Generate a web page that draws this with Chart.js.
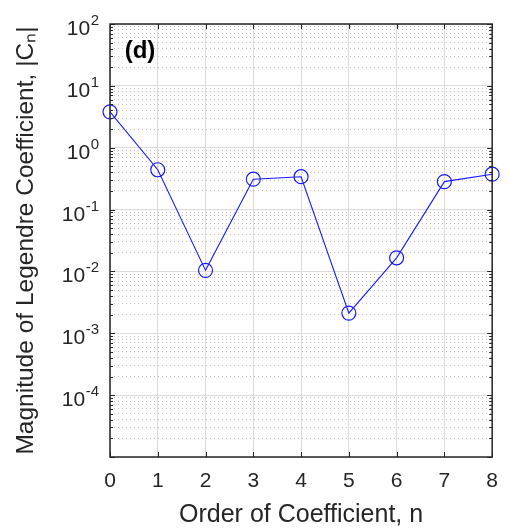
<!DOCTYPE html>
<html>
<head>
<meta charset="utf-8">
<script src="https://cdn.jsdelivr.net/npm/chart.js@4"></script>
<style>
  body { margin: 0; background: #fff; }
  canvas { display: block; }
</style>
</head>
<body>
<canvas id="legendreChart" width="510" height="531"></canvas>
<script>
// data
const orders = [0, 1, 2, 3, 4, 5, 6, 7, 8];
const magnitudes = [3.8, 0.44, 0.0104, 0.31, 0.34, 0.00212, 0.0166, 0.283, 0.373];
const xTickValues = [0, 1, 2, 3, 4, 5, 6, 7, 8];
const yDecades = [-5, -4, -3, -2, -1, 0, 1, 2];
const yLabelExponents = [-4, -3, -2, -1, 0, 1, 2];
const panelTag = '(d)';

const textColor = '#262626';
const fontFamily = '"Liberation Sans", Arial, sans-serif';
const isDecade = v => Math.abs(Math.log10(v) - Math.round(Math.log10(v))) < 1e-9;

// 1..9 x 10^e for every decade, last decade only its 10^max
const yTickValues = [];
yDecades.forEach((e, i) => {
  if (i === yDecades.length - 1) { yTickValues.push(Math.pow(10, e)); return; }
  for (let m = 1; m <= 9; m++) yTickValues.push(m * Math.pow(10, e));
});

const matlabAxes = {
  id: 'matlabAxes',
  afterDraw(chart) {
    const ctx = chart.ctx;
    const a = chart.chartArea;
    const xs = chart.scales.x, ys = chart.scales.y;
    ctx.save();
    ctx.strokeStyle = textColor;
    ctx.lineWidth = 1;
    // inward tick marks
    ctx.beginPath();
    yTickValues.forEach(v => {
      const y = Math.round(ys.getPixelForValue(v)) + 0.5;
      const len = isDecade(v) ? 5 : 3;
      ctx.moveTo(a.left, y); ctx.lineTo(a.left + len, y);
      ctx.moveTo(a.right, y); ctx.lineTo(a.right - len, y);
    });
    xTickValues.forEach(v => {
      const x = Math.round(xs.getPixelForValue(v)) + 0.5;
      ctx.moveTo(x, a.bottom); ctx.lineTo(x, a.bottom - 5);
      ctx.moveTo(x, a.top); ctx.lineTo(x, a.top + 5);
    });
    ctx.stroke();
    // box
    ctx.lineWidth = 1.5;
    ctx.strokeRect(a.left, a.top, a.right - a.left, a.bottom - a.top);

    // y tick labels 10^n
    ctx.fillStyle = textColor;
    ctx.textBaseline = 'alphabetic';
    ctx.textAlign = 'right';
    const rightEdge = a.left - 11;
    yLabelExponents.forEach(e => {
      const y = ys.getPixelForValue(Math.pow(10, e));
      const sup = String(e);
      ctx.font = '15px ' + fontFamily;
      const supW = ctx.measureText(sup).width;
      ctx.fillText(sup, rightEdge, y + 1);
      ctx.font = '21px ' + fontFamily;
      ctx.fillText('10', rightEdge - supW - 0.5, y + 11);
    });

    // panel tag
    ctx.font = 'bold 24px ' + fontFamily;
    ctx.textAlign = 'center';
    ctx.textBaseline = 'middle';
    ctx.fillStyle = '#000';
    ctx.fillText(panelTag, a.left + 30, a.top + 27);
    ctx.restore();
  }
};

new Chart(document.getElementById('legendreChart').getContext('2d'), {
  type: 'line',
  data: {
    datasets: [{
      data: orders.map((n, i) => ({ x: n, y: magnitudes[i] })),
      borderColor: '#1a1aff',
      borderWidth: 1.1,
      pointStyle: 'circle',
      pointRadius: 7,
      pointBorderWidth: 1.2,
      pointBorderColor: '#1a1aff',
      pointBackgroundColor: 'rgba(0,0,0,0)',
      tension: 0,
      fill: false,
      clip: false
    }]
  },
  options: {
    responsive: false,
    animation: false,
    devicePixelRatio: 1,
    layout: { padding: { left: 0, top: 24, right: 13, bottom: 0 } },
    plugins: {
      legend: { display: false },
      tooltip: { enabled: false }
    },
    scales: {
      x: {
        type: 'linear',
        min: 0,
        max: 8,
        afterBuildTicks: scale => { scale.ticks = xTickValues.map(v => ({ value: v })); },
        afterFit: scale => { scale.height = 74; },
        ticks: {
          color: textColor,
          font: { family: fontFamily, size: 21 },
          padding: 12,
          maxRotation: 0
        },
        grid: { color: '#dcdcdc', lineWidth: 1, drawTicks: false },
        border: { display: false },
        title: {
          display: true,
          text: 'Order of Coefficient, n',
          color: textColor,
          font: { family: fontFamily, size: 25 },
          padding: { top: 0, bottom: 1 }
        }
      },
      y: {
        type: 'logarithmic',
        min: Math.pow(10, yDecades[0]),
        max: Math.pow(10, yDecades[yDecades.length - 1]),
        afterBuildTicks: scale => { scale.ticks = yTickValues.map(v => ({ value: v, major: isDecade(v) })); },
        afterFit: scale => { scale.width = 110; },
        ticks: { display: false },
        grid: {
          drawTicks: false,
          lineWidth: 1,
          color: c => (c.tick && isDecade(c.tick.value)) ? '#dcdcdc' : '#c2c2c2'
        },
        border: {
          display: false,
          dash: c => (c.tick && !isDecade(c.tick.value)) ? [1, 3] : []
        },
        title: {
          display: true,
          text: 'Magnitude of Legendre Coefficient, |Cₙ|',
          color: textColor,
          font: { family: fontFamily, size: 24.5 },
          padding: { top: 12, bottom: 0 }
        }
      }
    }
  },
  plugins: [matlabAxes]
});
</script>
</body>
</html>
